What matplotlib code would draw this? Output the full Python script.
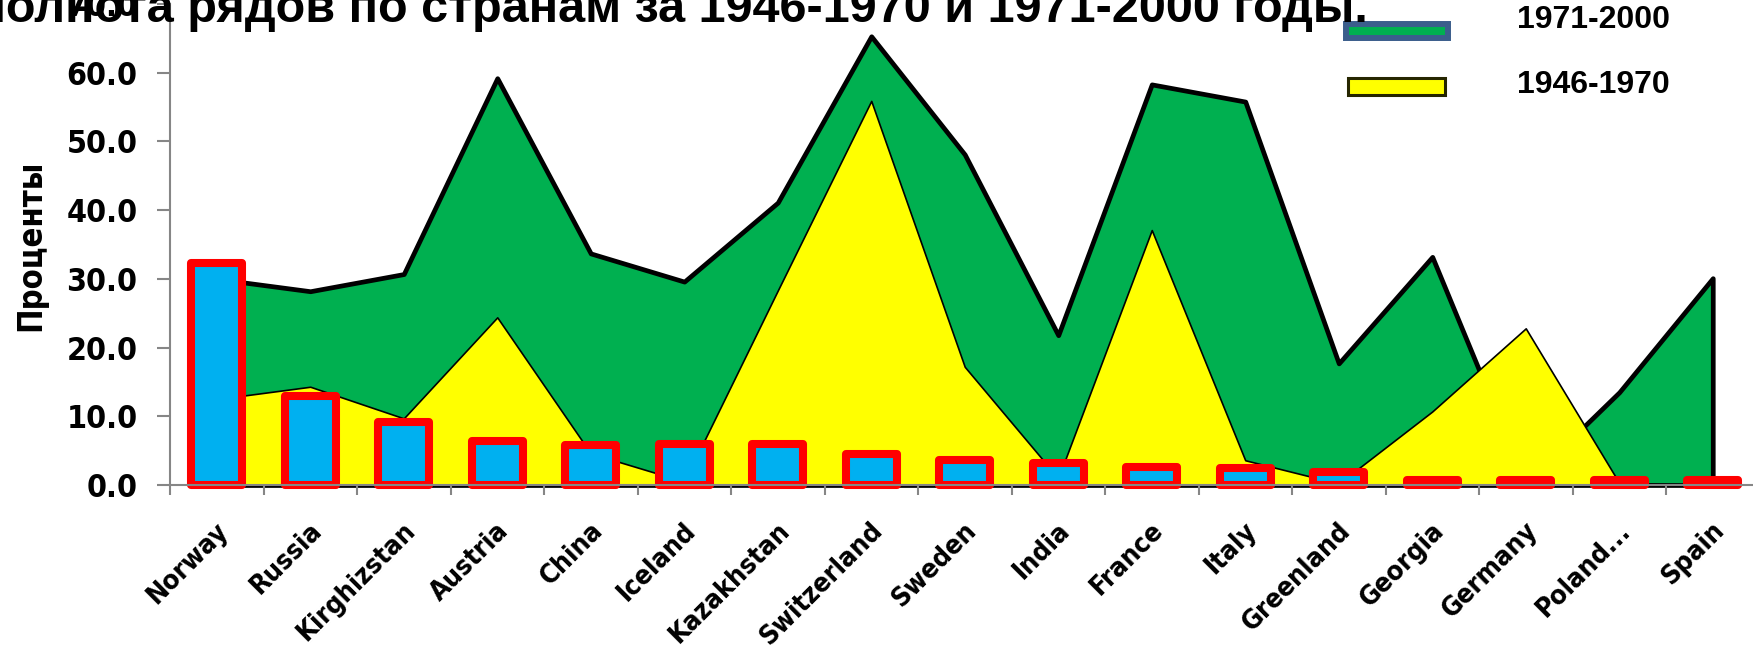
import numpy as np
import matplotlib
matplotlib.use("Agg")
import matplotlib.pyplot as plt
from matplotlib.patches import Rectangle
from matplotlib.ticker import FormatStrFormatter
from matplotlib.transforms import ScaledTranslation

plt.rcParams["font.family"] = ["DejaVu Sans"]
plt.rcParams["font.weight"] = "bold"
plt.rcParams["font.stretch"] = "condensed"

countries = ["Norway", "Russia", "Kirghizstan", "Austria", "China", "Iceland",
             "Kazakhstan", "Switzerland", "Sweden", "India", "France", "Italy",
             "Greenland", "Georgia", "Germany", "Poland...", "Spain"]

# completeness of the series, %
pct_1971_2000 = [30.0, 28.2, 30.7, 59.2, 33.7, 29.6, 41.1, 65.3, 48.1, 21.8,
                 58.3, 55.8, 17.7, 33.2, 0.3, 13.5, 30.1]
pct_1946_1970 = [12.5, 14.3, 9.7, 24.4, 4.6, 0.5, 28.3, 55.9, 17.2, 1.0,
                 37.1, 3.6, 0.2, 10.7, 22.8, 0.3, 0.0]
# share of each country in the whole set, %
share = [32.3, 13.0, 9.2, 6.4, 5.85, 5.9, 5.9, 4.55, 3.7, 3.15,
         2.6, 2.5, 1.95, 0.7, 0.7, 0.7, 0.7]

title = "Полнота рядов по странам за 1946-1970 и 1971-2000 годы."
legend_labels = ["1971-2000", "1946-1970"]

GREEN, YELLOW, BLUE, RED, GREY = "#00B050", "#FFFF00", "#00B0F0", "#FF0000", "#868686"

W, H = 1753, 648
fig = plt.figure(figsize=(W / 100, H / 100), dpi=100)
ax = fig.add_axes([170 / W, 163 / H, 1589.5 / W, 481 / H])

x = np.arange(len(countries))
ax.fill_between(x, pct_1971_2000, 0, facecolor=GREEN, edgecolor="black",
                linewidth=3.4, zorder=1, clip_on=False)
ax.fill_between(x, pct_1946_1970, 0, facecolor=YELLOW, edgecolor="black",
                linewidth=1.2, zorder=1.1, clip_on=False)
ax.bar(x, share, width=0.55, color=BLUE, edgecolor=RED, linewidth=5.8,
       joinstyle="round", zorder=2, clip_on=False)

ax.set_xlim(-0.5, len(countries) - 0.5)
ax.set_ylim(0, 70)

for side in ("top", "right"):
    ax.spines[side].set_visible(False)
for side in ("left", "bottom"):
    ax.spines[side].set_color(GREY)
    ax.spines[side].set_linewidth(1.5)

ax.set_yticks(np.arange(0, 71, 10))
ax.yaxis.set_major_formatter(FormatStrFormatter("%.1f"))
ax.tick_params(axis="y", length=9.4, width=1.5, color=GREY, pad=14, labelsize=23)

ax.set_xticks(x, countries, rotation=45, ha="right", va="center",
              rotation_mode="anchor", fontsize=19.5)
ax.set_xticks(np.arange(-0.5, len(countries), 1), minor=True)
ax.tick_params(axis="x", which="major", length=0, pad=30)
ax.tick_params(axis="x", which="minor", length=7, width=1.5, color=GREY)
shift = ScaledTranslation(0.08, 0, fig.dpi_scale_trans)
for lbl in ax.get_xticklabels():
    lbl.set_transform(lbl.get_transform() + shift)

fig.text(31 / W, 1 - 245 / H, "Проценты", rotation=90, ha="center", va="center",
         fontsize=23.5)

fig.text(1368 / W, 1 - 22 / H, title, ha="right", va="baseline",
         fontsize=35, fontweight="bold", family="Liberation Sans", fontstretch="normal")

# legend drawn by hand: swatch boxes and labels
legend_font = dict(family="Liberation Sans", fontweight="bold", fontsize=23,
                   fontstretch="normal", va="center", ha="left")
swatches = [
    dict(xy=(1346, 38), w=102, h=14, fc=GREEN, ec="#3B5E8C", lw=4.3, ty=19.5),
    dict(xy=(1347.5, 94.5), w=97, h=17, fc=YELLOW, ec="#262600", lw=2.2, ty=85),
]
for sw, lab in zip(swatches, legend_labels):
    fig.add_artist(Rectangle((sw["xy"][0] / W, 1 - sw["xy"][1] / H), sw["w"] / W, sw["h"] / H,
                             transform=fig.transFigure, facecolor=sw["fc"],
                             edgecolor=sw["ec"], linewidth=sw["lw"]))
    fig.text(1517 / W, 1 - sw["ty"] / H, lab, **legend_font)

fig.savefig("out.png", dpi=100)
